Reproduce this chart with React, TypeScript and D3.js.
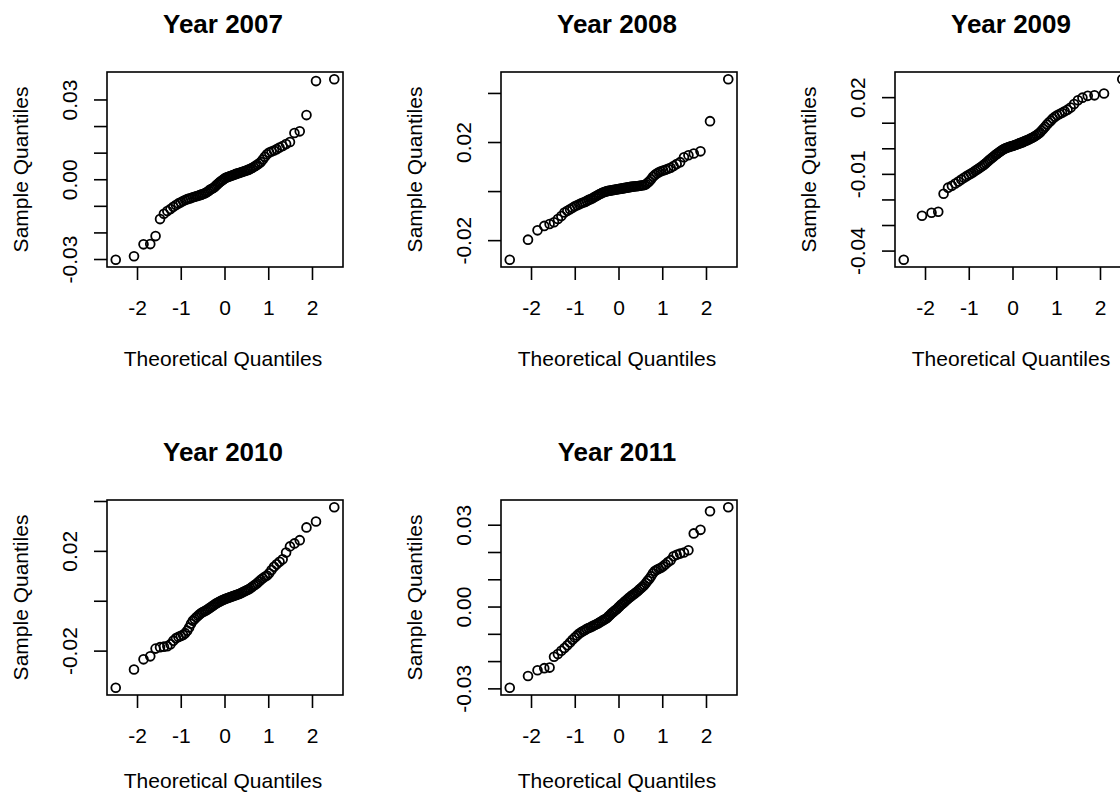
import * as d3 from "d3";
import { useEffect, useRef } from "react";

// one panel per year, sorted sample quantiles (daily returns)
const years = [2007, 2008, 2009, 2010, 2011];

const q2007 = [
  -0.0301, -0.0288, -0.0243, -0.0242, -0.0212, -0.0148, -0.0128, -0.0118, -0.0110, -0.0102,
  -0.0095, -0.0089, -0.0085, -0.0080, -0.0076, -0.0073, -0.0071, -0.0069, -0.0066, -0.0064,
  -0.0062, -0.0060, -0.0058, -0.0056, -0.0054, -0.0052, -0.0049, -0.0045, -0.0041, -0.0037,
  -0.0034, -0.0031, -0.0027, -0.0022, -0.0017, -0.0012, -0.0008, -0.0004, 0.0, 0.0004,
  0.0007, 0.0009, 0.0011, 0.0013, 0.0015, 0.0017, 0.0019, 0.0021, 0.0023, 0.0024,
  0.0026, 0.0028, 0.0030, 0.0032, 0.0034, 0.0036, 0.0038, 0.0041, 0.0044, 0.0048,
  0.0052, 0.0056, 0.0061, 0.0067, 0.0076, 0.0086, 0.0096, 0.0102, 0.0106, 0.0110,
  0.0115, 0.0121, 0.0127, 0.0134, 0.0142, 0.0176, 0.0182, 0.0243, 0.0371, 0.0378,
];

const q2008 = [
  -0.0278, -0.0196, -0.0158, -0.0140, -0.0132, -0.0125, -0.0112, -0.0100, -0.0085, -0.0078,
  -0.0072, -0.0066, -0.0060, -0.0056, -0.0052, -0.0048, -0.0045, -0.0042, -0.0038, -0.0034,
  -0.0031, -0.0028, -0.0024, -0.0020, -0.0017, -0.0013, -0.0010, -0.0007, -0.0004, -0.0002,
  0.0, 0.0002, 0.0003, 0.0004, 0.0005, 0.0006, 0.0007, 0.0008, 0.0009, 0.0010,
  0.0011, 0.0012, 0.0013, 0.0014, 0.0015, 0.0016, 0.0017, 0.0018, 0.0019, 0.0020,
  0.0021, 0.0022, 0.0022, 0.0023, 0.0024, 0.0025, 0.0026, 0.0027, 0.0030, 0.0036,
  0.0042, 0.0050, 0.0060, 0.0068, 0.0074, 0.0079, 0.0083, 0.0086, 0.0089, 0.0093,
  0.0097, 0.0104, 0.0112, 0.0120, 0.0140, 0.0148, 0.0155, 0.0164, 0.0287, 0.0458,
];

const q2009 = [
  -0.0434, -0.0262, -0.0250, -0.0246, -0.0176, -0.0152, -0.0145, -0.0136, -0.0128, -0.0120,
  -0.0113, -0.0107, -0.0102, -0.0097, -0.0092, -0.0086, -0.0081, -0.0076, -0.0071, -0.0066,
  -0.0061, -0.0056, -0.0050, -0.0044, -0.0039, -0.0034, -0.0029, -0.0024, -0.0020, -0.0016,
  -0.0012, -0.0008, -0.0004, -0.0001, 0.0002, 0.0004, 0.0006, 0.0008, 0.0010, 0.0011,
  0.0013, 0.0015, 0.0017, 0.0019, 0.0021, 0.0023, 0.0025, 0.0027, 0.0030, 0.0032,
  0.0034, 0.0037, 0.0040, 0.0043, 0.0046, 0.0050, 0.0054, 0.0059, 0.0064, 0.0071,
  0.0078, 0.0086, 0.0095, 0.0103, 0.0110, 0.0118, 0.0125, 0.0131, 0.0136, 0.0141,
  0.0147, 0.0153, 0.0161, 0.0175, 0.0190, 0.0200, 0.0207, 0.0209, 0.0216, 0.0272,
];

const q2010 = [
  -0.0347, -0.0274, -0.0233, -0.0221, -0.0190, -0.0184, -0.0182, -0.0180, -0.0172, -0.0158,
  -0.0148, -0.0143, -0.0139, -0.0135, -0.0128, -0.0118, -0.0105, -0.0090, -0.0078, -0.0071,
  -0.0064, -0.0058, -0.0052, -0.0047, -0.0043, -0.0040, -0.0037, -0.0033, -0.0029, -0.0025,
  -0.0021, -0.0017, -0.0013, -0.0009, -0.0006, -0.0003, 0.0, 0.0003, 0.0005, 0.0008,
  0.0010, 0.0012, 0.0014, 0.0016, 0.0018, 0.0020, 0.0022, 0.0024, 0.0026, 0.0028,
  0.0030, 0.0033, 0.0036, 0.0039, 0.0042, 0.0045, 0.0048, 0.0052, 0.0057, 0.0062,
  0.0067, 0.0072, 0.0079, 0.0086, 0.0092, 0.0098, 0.0103, 0.0112, 0.0125, 0.0138,
  0.0148, 0.0158, 0.0168, 0.0195, 0.0220, 0.0232, 0.0245, 0.0296, 0.0320, 0.0377,
];

const q2011 = [
  -0.0296, -0.0253, -0.0232, -0.0224, -0.0222, -0.0182, -0.0172, -0.0160, -0.0150, -0.0140,
  -0.0130, -0.0120, -0.0112, -0.0104, -0.0097, -0.0092, -0.0088, -0.0084, -0.0080, -0.0077,
  -0.0074, -0.0071, -0.0068, -0.0065, -0.0062, -0.0059, -0.0056, -0.0052, -0.0049, -0.0046,
  -0.0043, -0.0039, -0.0034, -0.0029, -0.0024, -0.0019, -0.0015, -0.0011, -0.0007, -0.0002,
  0.0003, 0.0008, 0.0012, 0.0017, 0.0021, 0.0026, 0.0030, 0.0035, 0.0039, 0.0043,
  0.0047, 0.0051, 0.0055, 0.0060, 0.0065, 0.0070, 0.0075, 0.0081, 0.0088, 0.0096,
  0.0104, 0.0113, 0.0124, 0.0132, 0.0137, 0.0140, 0.0144, 0.0150, 0.0157, 0.0165,
  0.0172, 0.0186, 0.0192, 0.0196, 0.0200, 0.0208, 0.0270, 0.0283, 0.0351, 0.0366,
];

const samples = [q2007, q2008, q2009, q2010, q2011];

const xTicks = [-2, -1, 0, 1, 2];
const yTicks = [
  [-0.03, -0.02, -0.01, 0, 0.01, 0.02, 0.03],
  [-0.02, 0, 0.02, 0.04],
  [-0.04, -0.03, -0.02, -0.01, 0, 0.01, 0.02],
  [-0.02, 0, 0.02, 0.04],
  [-0.03, -0.02, -0.01, 0, 0.01, 0.02, 0.03],
];
// R drops labels that would overlap, only these are printed
const yLabels = [
  [-0.03, 0, 0.03],
  [-0.02, 0.02],
  [-0.04, -0.01, 0.02],
  [-0.02, 0.02],
  [-0.03, 0, 0.03],
];

// inverse normal cdf (Acklam)
const qnorm = (p: number): number => {
  const a = [-39.69683028665376, 220.9460984245205, -275.9285104469687, 138.357751867269, -30.66479806614716, 2.506628277459239];
  const b = [-54.47609879822406, 161.5858368580409, -155.6989798598866, 66.80131188771972, -13.28068155288572];
  const c = [-0.007784894002430293, -0.3223964580411365, -2.400758277161838, -2.549732539343734, 4.374664141464968, 2.938163982698783];
  const d = [0.007784695709041462, 0.3224671290700398, 2.445134137142996, 3.754408661907416];
  const pl = 0.02425;
  if (p < pl) {
    const q = Math.sqrt(-2 * Math.log(p));
    return (((((c[0] * q + c[1]) * q + c[2]) * q + c[3]) * q + c[4]) * q + c[5]) /
      ((((d[0] * q + d[1]) * q + d[2]) * q + d[3]) * q + 1);
  }
  if (p > 1 - pl) return -qnorm(1 - p);
  const q = p - 0.5;
  const r = q * q;
  return ((((((a[0] * r + a[1]) * r + a[2]) * r + a[3]) * r + a[4]) * r + a[5]) * q) /
    (((((b[0] * r + b[1]) * r + b[2]) * r + b[3]) * r + b[4]) * r + 1);
};

// same as R's ppoints()
const ppoints = (n: number) => {
  const a = n <= 10 ? 3 / 8 : 0.5;
  return d3.range(1, n + 1).map((i) => (i - a) / (n + 1 - 2 * a));
};

// R's default 4% axis extension
const rExtent = (vals: number[]) => {
  const [lo, hi] = d3.extent(vals) as [number, number];
  const pad = (hi - lo) * 0.04;
  return [lo - pad, hi + pad];
};

const W = 1120;
const H = 794;
const cellW = 394;
const cellH = 428;
const box = { left: 107, top: 72, width: 236, height: 195 };
const font = "'Liberation Sans', Arial, sans-serif";
const lw = 1.6;

export default function App() {
  const svgRef = useRef<SVGSVGElement | null>(null);

  useEffect(() => {
    const svg = d3.select(svgRef.current);
    svg.selectAll("*").remove();

    svg.append("rect").attr("width", W).attr("height", H).attr("fill", "white");

    years.forEach((year, k) => {
      const vals = samples[k];
      const theo = ppoints(vals.length).map(qnorm);
      const pts = vals.map((v, i) => ({ tx: theo[i], v }));

      const col = k % 3;
      const row = Math.floor(k / 3);
      const x0 = col * cellW + box.left;
      const y0 = row * cellH + box.top;
      const x1 = x0 + box.width;
      const y1 = y0 + box.height;

      const x = d3.scaleLinear().domain(rExtent(theo)).range([x0, x1]);
      const y = d3.scaleLinear().domain(rExtent(vals)).range([y1, y0]);

      const g = svg.append("g").attr("font-family", font).attr("fill", "black");

      // title
      g.append("text")
        .attr("x", (x0 + x1) / 2 - 2)
        .attr("y", row * cellH + 33)
        .attr("text-anchor", "middle")
        .attr("font-size", 26)
        .attr("font-weight", "bold")
        .text(`Year ${year}`);

      // points
      g.append("g")
        .selectAll("circle")
        .data(pts)
        .join("circle")
        .attr("cx", (d) => x(d.tx))
        .attr("cy", (d) => y(d.v))
        .attr("r", 4.4)
        .attr("fill", "none")
        .attr("stroke", "black")
        .attr("stroke-width", 1.8);

      // box
      g.append("rect")
        .attr("x", x0)
        .attr("y", y0)
        .attr("width", box.width)
        .attr("height", box.height)
        .attr("fill", "none")
        .attr("stroke", "black")
        .attr("stroke-width", lw);

      // x axis
      const xa = g.append("g");
      xa.selectAll("line")
        .data(xTicks)
        .join("line")
        .attr("x1", (d) => x(d))
        .attr("x2", (d) => x(d))
        .attr("y1", y1)
        .attr("y2", y1 + 13)
        .attr("stroke", "black")
        .attr("stroke-width", lw);
      xa.selectAll("text")
        .data(xTicks)
        .join("text")
        .attr("x", (d) => x(d))
        .attr("y", y1 + 48)
        .attr("text-anchor", "middle")
        .attr("font-size", 21)
        .text((d) => String(d));

      g.append("text")
        .attr("x", (x0 + x1) / 2 - 2)
        .attr("y", Math.min(y1 + 99, H - 6))
        .attr("text-anchor", "middle")
        .attr("font-size", 21)
        .text("Theoretical Quantiles");

      // y axis
      const ya = g.append("g");
      ya.selectAll("line")
        .data(yTicks[k])
        .join("line")
        .attr("x1", x0)
        .attr("x2", x0 - 13)
        .attr("y1", (d) => y(d))
        .attr("y2", (d) => y(d))
        .attr("stroke", "black")
        .attr("stroke-width", lw);
      ya.selectAll("text")
        .data(yLabels[k])
        .join("text")
        .attr("transform", (d) => `translate(${x0 - 30},${y(d)}) rotate(-90)`)
        .attr("text-anchor", "middle")
        .attr("font-size", 21)
        .text((d) => d.toFixed(2));

      g.append("text")
        .attr("transform", `translate(${x0 - 79},${(y0 + y1) / 2}) rotate(-90)`)
        .attr("text-anchor", "middle")
        .attr("font-size", 21)
        .text("Sample Quantiles");
    });
  }, []);

  return (
    <svg
      ref={svgRef}
      width={W}
      height={H}
      style={{ position: "absolute", left: 0, top: 0, display: "block" }}
    />
  );
}
